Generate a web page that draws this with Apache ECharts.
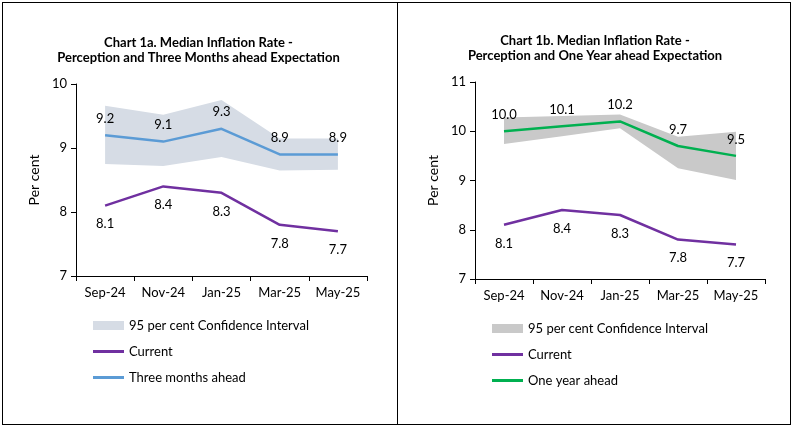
<!DOCTYPE html>
<html><head><meta charset="utf-8">
<script src="https://cdn.jsdelivr.net/npm/echarts@6/dist/echarts.min.js"></script>
<style>
html,body{margin:0;padding:0;background:#fff;}
#wrap{position:relative;width:793px;height:428px;overflow:hidden;}
#c1{position:absolute;left:0;top:0;width:397px;height:428px;}
#c2{position:absolute;left:397px;top:0;width:396px;height:428px;}
.frame{position:absolute;background:#000;}
</style></head><body>
<div id="wrap">
<div id="c1"></div><div id="c2"></div>
<div class="frame" style="left:2px;top:2px;width:789px;height:1px"></div>
<div class="frame" style="left:2px;top:424px;width:789px;height:1px"></div>
<div class="frame" style="left:2px;top:2px;width:1px;height:423px"></div>
<div class="frame" style="left:397px;top:2px;width:1px;height:423px"></div>
<div class="frame" style="left:790px;top:2px;width:1px;height:423px"></div>
</div>
<script>
const categories = ['Sep-24','Nov-24','Jan-25','Mar-25','May-25'];
const current = [8.1, 8.4, 8.3, 7.8, 7.7];
const threeMonths = [9.2, 9.1, 9.3, 8.9, 8.9];
const threeLower = [8.75, 8.72, 8.86, 8.65, 8.66];
const threeUpper = [9.66, 9.52, 9.75, 9.15, 9.15];
const oneYear = [10.0, 10.1, 10.2, 9.7, 9.5];
const oneLower = [9.74, 9.90, 10.06, 9.25, 9.01];
const oneUpper = [10.28, 10.31, 10.34, 9.89, 9.99];

const FONT = 'Lato';
const CI = '95 per cent Confidence Interval';
const LINE_ICON = 'path://M0,0H31V3H0Z';

function build(cfg){
  const diff = cfg.upper.map((u,i)=> +(u - cfg.lower[i]).toFixed(3));
  return {
    animation:false,
    textStyle:{fontFamily:FONT},
    title:{
      text:cfg.title, left:'center', top:cfg.titleTop,
      textStyle:{fontFamily:FONT,fontSize:13,fontWeight:'bold',color:'#000',lineHeight:15}
    },
    legend:{
      orient:'vertical', left:cfg.legLeft, top:cfg.legTop, itemGap:13, padding:0,
      itemWidth:31, itemHeight:9, selectedMode:false,
      textStyle:{fontFamily:FONT,fontSize:13,color:'#000'},
      data:[
        {name:CI, icon:'rect', itemStyle:{color:cfg.band}},
        {name:'Current', icon:LINE_ICON, itemStyle:{color:'#7030A0'}},
        {name:cfg.lineName, icon:LINE_ICON, itemStyle:{color:cfg.lineColor}}
      ]
    },
    grid:{left:cfg.gl, top:cfg.gt, width:cfg.gw, height:cfg.gh},
    xAxis:{
      type:'category', data:categories, boundaryGap:true,
      axisLine:{lineStyle:{color:'#000',width:1}},
      axisTick:{show:true,length:5,interval:0,lineStyle:{color:'#000'}},
      axisLabel:{fontFamily:FONT,fontSize:13,color:'#000',margin:10,interval:0,hideOverlap:false}
    },
    yAxis:{
      type:'value', min:cfg.ymin, max:cfg.ymax, interval:1,
      name:'Per cent', nameLocation:'middle', nameGap:cfg.nameGap, nameRotate:90,
      nameTextStyle:{fontFamily:FONT,fontSize:14,color:'#000'},
      axisLine:{show:true,lineStyle:{color:'#000',width:1}},
      axisTick:{show:true,length:5,lineStyle:{color:'#000'}},
      splitLine:{show:false},
      axisLabel:{fontFamily:FONT,fontSize:13,color:'#000',margin:9}
    },
    series:[
      {name:'lowerBase', type:'line', stack:'ci', data:cfg.lower, symbol:'none',
       lineStyle:{opacity:0}, silent:true, legendHoverLink:false},
      {name:CI, type:'line', stack:'ci', data:diff, symbol:'none',
       itemStyle:{color:cfg.band}, lineStyle:{opacity:0},
       areaStyle:{color:cfg.band, opacity:1}},
      {name:'Current', type:'line', data:current, symbol:'circle', symbolSize:0.1, showSymbol:true,
       itemStyle:{color:'#7030A0'}, lineStyle:{color:'#7030A0',width:2.5},
       label:{show:true, position:'bottom', distance:12, fontFamily:FONT, fontSize:13, color:'#000',
              formatter:p=>Number(p.value).toFixed(1)}},
      {name:cfg.lineName, type:'line', data:cfg.line, symbol:'circle', symbolSize:0.1, showSymbol:true,
       itemStyle:{color:cfg.lineColor}, lineStyle:{color:cfg.lineColor,width:2.5},
       label:{show:true, position:'top', distance:10, fontFamily:FONT, fontSize:13, color:'#000',
              formatter:p=>Number(p.value).toFixed(1)}}
    ]
  };
}

const c1 = echarts.init(document.getElementById('c1'), null, {renderer:'canvas'});
c1.setOption(build({
  title:'Chart 1a. Median Inflation Rate -\nPerception and Three Months ahead Expectation',
  titleTop:30, legLeft:93, legTop:319,
  gl:76, gt:84, gw:291, gh:192, ymin:7, ymax:10, nameGap:34,
  lower:threeLower, upper:threeUpper, line:threeMonths,
  lineName:'Three months ahead', lineColor:'#5B9BD5', band:'#D6DCE5'
}));

const c2 = echarts.init(document.getElementById('c2'), null, {renderer:'canvas'});
c2.setOption(build({
  title:'Chart 1b. Median Inflation Rate -\nPerception and One Year ahead Expectation',
  titleTop:28, legLeft:95, legTop:322,
  gl:78, gt:82, gw:290, gh:197, ymin:7, ymax:11, nameGap:34,
  lower:oneLower, upper:oneUpper, line:oneYear,
  lineName:'One year ahead', lineColor:'#00B050', band:'#C9C9C9'
}));
</script>
</body></html>
